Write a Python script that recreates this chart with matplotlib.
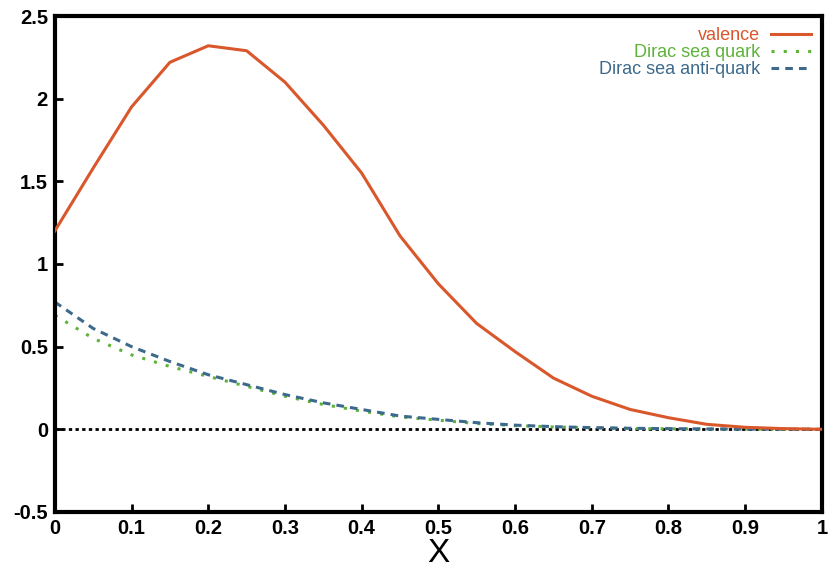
import numpy as np
import matplotlib.pyplot as plt

# momentum fraction grid
x = [0.0, 0.05, 0.1, 0.15, 0.2, 0.25, 0.3, 0.35, 0.4, 0.45, 0.5,
     0.55, 0.6, 0.65, 0.7, 0.75, 0.8, 0.85, 0.9, 0.95, 1.0]

valence = [1.20, 1.58, 1.95, 2.22, 2.32, 2.29, 2.10, 1.84, 1.55, 1.17, 0.88,
           0.64, 0.47, 0.31, 0.20, 0.12, 0.07, 0.03, 0.012, 0.004, 0.0]

sea_quark = [0.69, 0.55, 0.45, 0.38, 0.32, 0.26, 0.20, 0.15, 0.11, 0.075, 0.055,
             0.035, 0.022, 0.014, 0.009, 0.005, 0.003, 0.002, 0.001, 0.0005, 0.0]

sea_antiquark = [0.77, 0.61, 0.50, 0.41, 0.33, 0.27, 0.21, 0.16, 0.12, 0.08, 0.06,
                 0.04, 0.025, 0.016, 0.010, 0.006, 0.004, 0.002, 0.001, 0.0005, 0.0]

xticks = [0, 0.1, 0.2, 0.3, 0.4, 0.5, 0.6, 0.7, 0.8, 0.9, 1]
xticklabels = ['0', '0.1', '0.2', '0.3', '0.4', '0.5', '0.6', '0.7', '0.8', '0.9', '1']
yticks = [-0.5, 0, 0.5, 1, 1.5, 2, 2.5]
yticklabels = ['-0.5', '0', '0.5', '1', '1.5', '2', '2.5']

plt.rcParams['font.family'] = ['Liberation Sans', 'DejaVu Sans']

fig = plt.figure(figsize=(8.31, 5.72), dpi=100)
ax = fig.add_axes([0.066, 0.105, 0.923, 0.867])

ax.axhline(0, color='black', linestyle=(0, (1.2, 1.2)), linewidth=2, zorder=1)
ax.plot(x, valence, color='#d9572b', linewidth=2.2, label='valence', zorder=3)
ax.plot(x, sea_quark, color='#5db33a', linestyle=(0, (1, 3)), linewidth=2.2,
        label='Dirac sea quark', zorder=2)
ax.plot(x, sea_antiquark, color='#3d6a8c', linestyle=(0, (2.5, 2)), linewidth=2.2,
        label='Dirac sea anti-quark', zorder=2)

ax.set_xlim(0, 1)
ax.set_ylim(-0.5, 2.5)
ax.set_xticks(xticks)
ax.set_xticklabels(xticklabels)
ax.set_yticks(yticks)
ax.set_yticklabels(yticklabels)
ax.tick_params(direction='in', length=6, width=2, labelsize=14.5, pad=5)
for lab in ax.get_xticklabels() + ax.get_yticklabels():
    lab.set_fontweight('bold')
for s in ax.spines.values():
    s.set_linewidth(3)

ax.set_xlabel('X', fontsize=24, labelpad=0)

leg = ax.legend(loc='upper right', frameon=False, markerfirst=False,
                labelcolor='linecolor', fontsize=13, handlelength=2.2,
                handletextpad=0.6, labelspacing=0.0, borderaxespad=0.2)
for t in leg.get_texts():
    t.set_ha('right')

fig.savefig('out.png', dpi=100)
